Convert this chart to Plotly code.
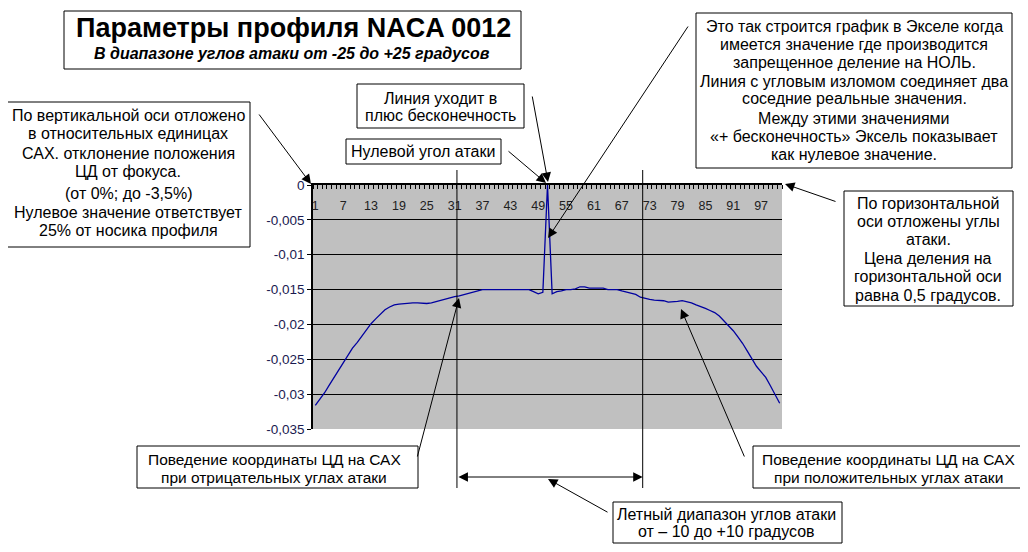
import plotly.graph_objects as go

# ---------------- data ----------------
# point index (1..101): angle of attack from -25 to +25 deg, step 0.5 deg
point_index = list(range(1, 102))
cp_shift = [
    -0.0316, -0.0307, -0.0298, -0.0287, -0.0276, -0.0265, -0.0254, -0.0244, -0.0234, -0.0226,
    -0.0217, -0.0208, -0.0199, -0.0192, -0.0185, -0.0179, -0.0175, -0.0172, -0.0171, -0.0170,
    -0.0169, -0.0169, -0.0169, -0.0170, -0.0170, -0.0169, -0.0167, -0.0166, -0.0164, -0.0162,
    -0.0160, -0.0159, -0.0157, -0.0155, -0.0153, -0.0151, -0.0150, -0.0150, -0.0150, -0.0150,
    -0.0149, -0.0149, -0.0149, -0.0149, -0.0149, -0.0149, -0.0150, -0.0153, -0.0156, -0.0154,
    0.0, -0.0156, -0.0153, -0.0152, -0.0150, -0.0150, -0.0149, -0.0146, -0.0146, -0.0148,
    -0.0148, -0.0148, -0.0148, -0.0150, -0.0150, -0.0150, -0.0152, -0.0154, -0.0155, -0.0157,
    -0.0161, -0.0163, -0.0164, -0.0165, -0.0165, -0.0166, -0.0168, -0.0168, -0.0167, -0.0166,
    -0.0167, -0.0169, -0.0172, -0.0174, -0.0177, -0.0180, -0.0183, -0.0188, -0.0195, -0.0201,
    -0.0209, -0.0218, -0.0227, -0.0238, -0.0250, -0.0260, -0.0268, -0.0276, -0.0288, -0.0301,
    -0.0313,
]
x_tick_vals = list(range(1, 102, 6))
x_tick_text = [str(v) for v in x_tick_vals]
y_tick_vals = [0, -0.005, -0.01, -0.015, -0.02, -0.025, -0.03, -0.035]
y_tick_text = ["0", "-0,005", "-0,01", "-0,015", "-0,02", "-0,025", "-0,03", "-0,035"]
flight_range = [31.5, 71.5]   # -10 .. +10 degrees

# ---------------- layout helpers ----------------
W, H = 1028, 552
OFF = 8                     # page body margin
L, R, T, B = 313, 782, 185, 429   # plot area in screen pixels
FONT = "Liberation Sans, Arial, sans-serif"


def px(x):
    return (x - L) / (R - L)


def py(y):
    return (B - y) / (B - T)


fig = go.Figure()
fig.add_trace(go.Scatter(
    x=point_index, y=cp_shift, mode="lines",
    line=dict(color="#0000A0", width=1.3), hoverinfo="x+y", showlegend=False,
))
# carrier (no marks) so that the inner label axis is drawn
fig.add_trace(go.Scatter(
    x=point_index, y=cp_shift, mode="none", xaxis="x2", yaxis="y",
    hoverinfo="skip", showlegend=False,
))

shapes = []
annotations = []


def box(x0, y0, x1, y1):
    shapes.append(dict(type="rect", xref="paper", yref="paper",
                       x0=px(x0), x1=px(x1), y0=py(y1), y1=py(y0),
                       line=dict(color="black", width=1), fillcolor="white", layer="above"))


def lines(cx, ys, texts, size=16, family=FONT):
    for yy, tt in zip(ys, texts):
        annotations.append(dict(xref="paper", yref="paper", x=px(cx), y=py(yy),
                                xanchor="center", yanchor="middle", text=tt, showarrow=False,
                                font=dict(family=family, size=size, color="black")))


def arrow(tail, head):
    annotations.append(dict(xref="paper", yref="paper", x=px(head[0]), y=py(head[1]),
                            ax=tail[0] - head[0], ay=tail[1] - head[1], text="",
                            showarrow=True, arrowhead=2, arrowsize=1.9, arrowwidth=1,
                            arrowcolor="black", standoff=0))


# title
box(64, 11, 521, 69)
lines(293, [28], ["<b>Параметры профиля NACA 0012</b>"], size=27)
lines(292, [53], ["<b><i>В диапазоне углов атаки от -25 до +25 градусов</i></b>"], size=16)

# left box
box(7, 102, 250, 247)
lines(128, [116, 134, 153, 171, 193, 212, 230],
      ["По вертикальной оси отложено", "в относительных единицах",
       "САХ. отклонение положения", "ЦД от фокуса.", "(от 0%; до -3,5%)",
       "Нулевое значение ответствует", "25% от носика профиля"])
arrow((258, 113), (311, 184))

# line goes to +infinity
box(357, 84, 524, 128)
lines(440, [98, 116], ["Линия уходит в", "плюс бесконечность"])
arrow((532, 95), (548, 182))

# zero angle
box(346, 139, 501, 164)
lines(423, [151], ["Нулевой угол атаки"])
arrow((507, 150), (546, 183))

# right top box
box(696, 13, 1012, 168)
lines(854, [26, 44, 62, 81, 99, 118, 136, 154],
      ["Это так строится график в Экселе когда", "имеется значение где производится",
       "запрещенное деление на НОЛЬ.", "Линия с угловым изломом соединяет два",
       "соседние реальные значения.", "Между этими значениями",
       "«+ бесконечность» Эксель показывает", "как нулевое значение."])
arrow((689, 25), (548, 238))

# right box
box(844, 191, 1013, 306)
lines(928, [203, 221, 239, 258, 276, 295],
      ["По горизонтальной", "оси отложены углы", "атаки.", "Цена деления на",
       "горизонтальной оси", "равна 0,5 градусов."])
arrow((837, 202), (785, 184))

# bottom boxes
box(137, 446, 418, 488)
lines(274, [459, 477], ["Поведение координаты ЦД на САХ", "при отрицательных углах атаки"], size=15.5)
arrow((417, 458), (459, 298))

box(753, 446, 1023, 488)
lines(888, [459, 477], ["Поведение координаты ЦД на САХ", "при положительных углах атаки"], size=15.5)
arrow((745, 458), (681, 309))

box(613, 502, 842, 543)
lines(726, [514, 531], ["Летный диапазон углов атаки", "от – 10 до +10 градусов"])
arrow((609, 513), (548, 479))

# flight range lines and double arrow
for xv in flight_range:
    shapes.append(dict(type="line", xref="x", yref="paper", x0=xv, x1=xv,
                       y0=py(170), y1=py(488), line=dict(color="black", width=1)))
annotations.append(dict(xref="x", yref="paper", x=flight_range[1], y=py(477),
                        ax=flight_range[0], ay=0, axref="x", ayref="pixel", text="",
                        showarrow=True, arrowhead=2, arrowsize=1.9, arrowwidth=1,
                        startarrowhead=2, startarrowsize=1.9, arrowside="end+start",
                        arrowcolor="black", standoff=0, startstandoff=0))

fig.update_layout(
    width=W, height=H, autosize=False,
    margin=dict(l=L - OFF, r=W - R + OFF, t=T - OFF, b=H - B + OFF, pad=0),
    paper_bgcolor="white", plot_bgcolor="#C0C0C0",
    font=dict(family=FONT, color="black"),
    shapes=shapes, annotations=annotations, showlegend=False,
    xaxis=dict(range=[0.5, 101.5], side="top", showline=True, linecolor="black", linewidth=1.5,
               showticklabels=False, ticks="", showgrid=False, zeroline=False,
               automargin=False, fixedrange=True,
               minor=dict(ticks="inside", ticklen=4, tickcolor="black", tick0=0.5, dtick=1,
                          showgrid=False)),
    xaxis2=dict(range=[0.5, 101.5], overlaying="x", anchor="free", position=py(196),
                side="bottom", showline=False, ticks="", showgrid=False, zeroline=False,
                tickvals=x_tick_vals, ticktext=x_tick_text,
                tickfont=dict(size=12.5, color="#202020"), automargin=False, fixedrange=True),
    yaxis=dict(range=[-0.035, 0], tickvals=y_tick_vals, ticktext=y_tick_text,
               showgrid=True, gridcolor="black", gridwidth=1.2, showline=True,
               linecolor="black", linewidth=1.5, ticks="outside", ticklen=4, tickcolor="black",
               tickfont=dict(size=13.5, color="#1a1a50"), zeroline=False, automargin=False,
               fixedrange=True),
)

fig.write_html("out.html")
